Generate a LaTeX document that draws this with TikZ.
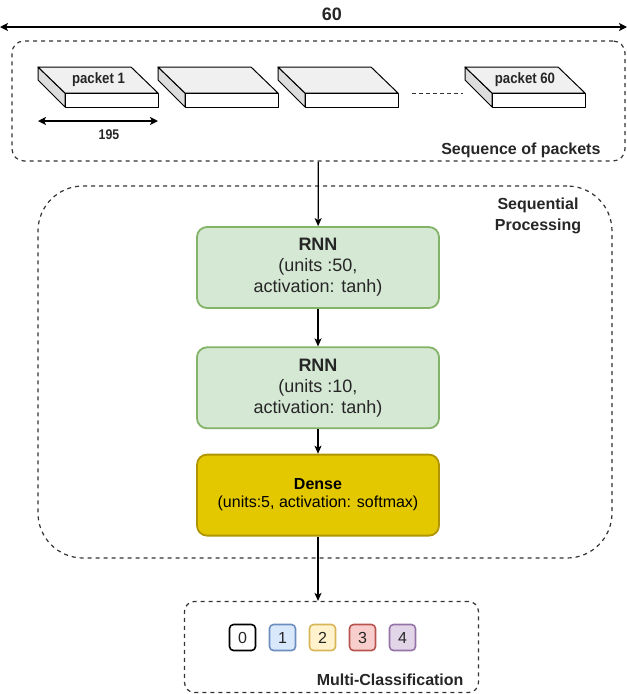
\documentclass[tikz,border=0pt]{standalone}
\usepackage{fontspec}
\setmainfont{Liberation Sans}
\newfontfamily\narrowfont[FakeStretch=0.88]{Liberation Sans}
\usepackage{tikz}
\usetikzlibrary{arrows.meta}
\usetikzlibrary{positioning}

\definecolor{rnnfill}{HTML}{D5E8D4}
\definecolor{rnndraw}{HTML}{82B366}
\definecolor{densefill}{HTML}{E3C800}
\definecolor{densedraw}{HTML}{B09500}
\definecolor{linegray}{HTML}{333333}
\definecolor{topgray}{HTML}{F0F0F0}
\definecolor{sidegray}{HTML}{DDDDDD}
\definecolor{bluefill}{HTML}{DAE8FC}
\definecolor{bluedraw}{HTML}{6C8EBF}
\definecolor{yellowfill}{HTML}{FFF2CC}
\definecolor{yellowdraw}{HTML}{D6B656}
\definecolor{redfill}{HTML}{F8CECC}
\definecolor{reddraw}{HTML}{B85450}
\definecolor{purplefill}{HTML}{E1D5E7}
\definecolor{purpledraw}{HTML}{9673A6}

\begin{document}
\begin{tikzpicture}[x=1pt, y=-1pt, line join=round,
    every node/.style={font=\fontsize{16}{19}\selectfont, text=black!85},
    groupbox/.style={draw=linegray, line width=1.2pt, dash pattern=on 4pt off 4pt, inner sep=0pt},
    grouplabel/.style={font=\fontsize{16}{21}\selectfont\bfseries},
    layerbox/.style={draw=rnndraw, fill=rnnfill, line width=1.8pt, rounded corners=10pt,
                     minimum width=242pt, minimum height=81pt, align=center,
                     font=\fontsize{18}{21}\selectfont},
    classbox/.style={draw=#1, line width=1.6pt, rounded corners=4pt, minimum size=26pt, inner sep=0pt},
    pktlabel/.style={font=\fontsize{15}{16}\narrowfont\bfseries},
    dimarrow/.style={{Stealth[length=8pt,width=8pt,inset=2pt]}-{Stealth[length=8pt,width=8pt,inset=2pt]}, line width=1.5pt},
    flow/.style={-{Stealth[length=8pt,width=7pt,inset=2pt]}, line width=1.2pt}]
      \useasboundingbox (0,0) rectangle (627,694);

      % total length
      \coordinate (wl) at (0,27);
      \coordinate (wr) at (627,27);
      \draw[dimarrow] (wl) -- (wr);
      \node[font=\fontsize{18}{20}\selectfont\bfseries] (total) at (332,14) {60};

      % Sequence of packets
      \node[groupbox, rounded corners=12pt, minimum width=613pt, minimum height=120pt] (seq) at (318.5,101) {};
      \node[grouplabel, anchor=base east] (seqlabel) at (604,154) {Sequence of packets};

      \foreach \px in {38,158,278,465} {
        \filldraw[fill=sidegray, line width=1pt] (\px,67) -- (\px+27,93) -- (\px+27,107) -- (\px,80) -- cycle;
        \filldraw[fill=topgray, line width=1pt] (\px,67) -- (\px+93,67) -- (\px+120,93) -- (\px+27,93) -- cycle;
        \filldraw[fill=white, line width=1pt] (\px+27,93) rectangle (\px+120,107);
      }
      \node[pktlabel] (p1) at (98.5,80) {packet 1};
      \node[pktlabel] (p60) at (525,80) {packet 60};
      \draw[linegray, dash pattern=on 4pt off 3pt] (412,93) -- (463,93);

      % packet size
      \coordinate (sl) at (38,121);
      \coordinate (sr) at (158,121);
      \draw[dimarrow] (sl) -- (sr);
      \node[pktlabel, font=\fontsize{14}{16}\narrowfont\bfseries] (len) at (109,135) {195};

      % Sequential Processing
      \node[groupbox, rounded corners=45pt, minimum width=574pt, minimum height=372pt] (proc) at (325,372) {};
      \node[grouplabel, align=center] (proclabel) at (538,216) {Sequential\\Processing};

      \node[layerbox] (rnn1) at (318,267.5) {\textbf{RNN}\\(units :50,\\activation: tanh)};
      \node[layerbox, below=37.5pt of rnn1] (rnn2) {\textbf{RNN}\\(units :10,\\activation: tanh)};
      \node[layerbox, below=24.5pt of rnn2, draw=densedraw, fill=densefill, text=black,
            font=\fontsize{16}{18}\selectfont] (dense) {\textbf{Dense}\\(units:5, activation: softmax)};

      % Multi-Classification
      \node[groupbox, rounded corners=10pt, minimum width=294pt, minimum height=91pt] (multi) at (331.5,647) {};
      \node[grouplabel, anchor=base east] (multilabel) at (467,685) {Multi-Classification};
      \foreach \i/\fc/\dc in {0/white/black, 1/bluefill/bluedraw, 2/yellowfill/yellowdraw,
                              3/redfill/reddraw, 4/purplefill/purpledraw}
        \node[classbox=\dc, fill=\fc] (c\i) at (242.5+40*\i,637.5) {\i};

      % arrows
      \draw[flow] (seq) -- (rnn1);
      \draw[flow] (rnn1) -- (rnn2);
      \draw[flow] (rnn2) -- (dense);
      \draw[flow] (dense.south) -- (dense.south |- multi.north);
\end{tikzpicture}
\end{document}
